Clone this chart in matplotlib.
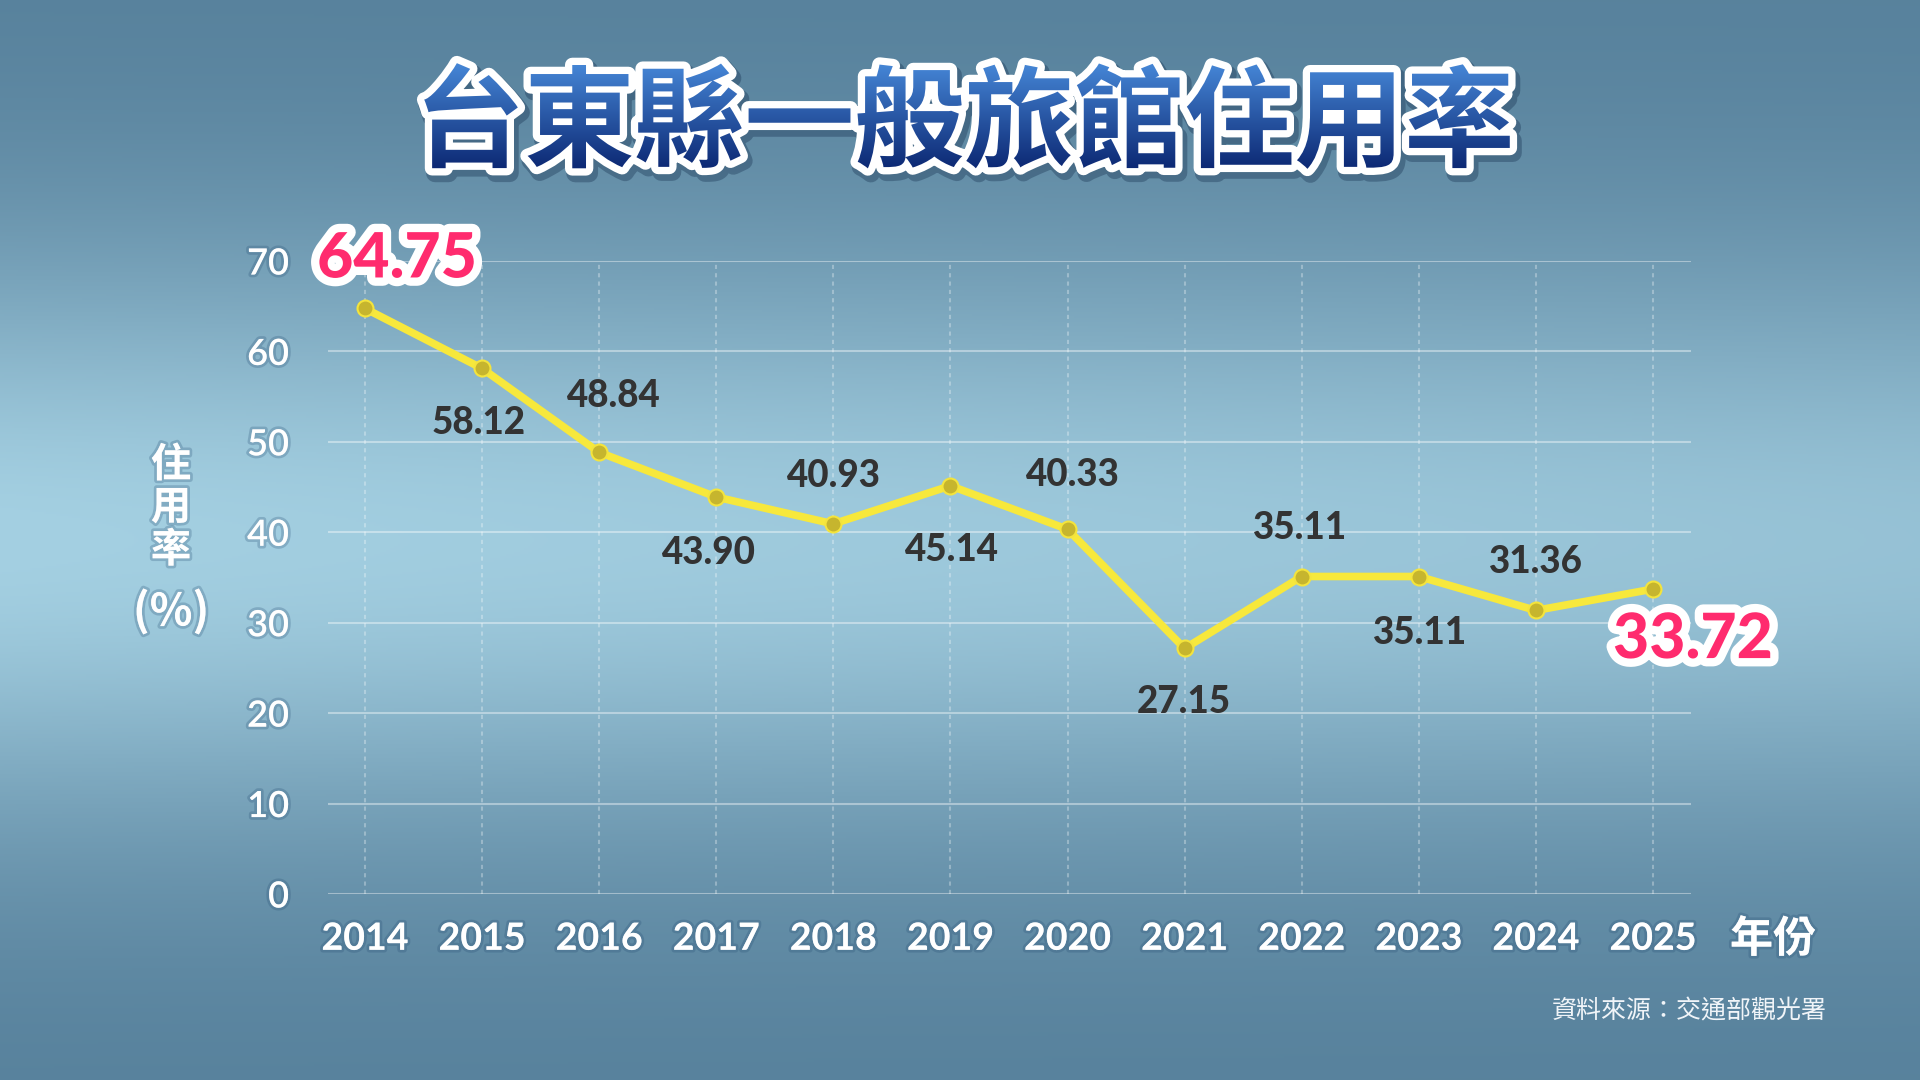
import numpy as np
import matplotlib
matplotlib.use("Agg")
import matplotlib.pyplot as plt
import matplotlib.patheffects as pe
from matplotlib.textpath import TextPath
from matplotlib.font_manager import FontProperties
from matplotlib.patches import PathPatch
from matplotlib.transforms import Affine2D

# ---------------- data ----------------
years = [2014, 2015, 2016, 2017, 2018, 2019, 2020, 2021, 2022, 2023, 2024, 2025]
values = [64.75, 58.12, 48.84, 43.90, 40.93, 45.14, 40.33, 27.15, 35.11, 35.11, 31.36, 33.72]
highlight_years = [2014, 2025]
y_ticks = [0, 10, 20, 30, 40, 50, 60, 70]
x_tick_labels = [str(y) for y in years]
title = "台東縣一般旅館住用率"
ylabel_main = "住\n用\n率"
ylabel_unit = "(%)"
xlabel = "年份"
source = "資料來源：交通部觀光署"

# label offsets in pixels (dx, dy) -- layout only
label_offsets = [(32, 49), (-3, -55), (14, 56), (-8, -56), (0, 48), (1, -64),
                 (4, 54), (-1, -54), (-2, 49), (1, -56), (0, 48), (40, -51)]

W, H = 1920, 1080
fig = plt.figure(figsize=(19.2, 10.8), dpi=100)

# ---------------- background ----------------
bg = fig.add_axes([0, 0, 1, 1])
bg.axis("off")
hh, ww = 540, 960
yy = np.linspace(0, 1, hh)[:, None]
xx = np.linspace(0, 1, ww)[None, :]
f = np.exp(-((yy - 0.50) / 0.27) ** 2) * (1.0 - 0.18 * xx)
dark = np.array([86, 128, 155]) / 255.0
light = np.array([164, 208, 226]) / 255.0
img = dark + (light - dark) * f[..., None]
bg.imshow(img, extent=[0, W, 0, H], origin="upper", aspect="auto", zorder=0)

# ---------------- title with gradient fill ----------------
fp = FontProperties(family="Noto Sans CJK TC", weight="black")
tp = TextPath((0, 0), title, size=110, prop=fp)
ext = tp.get_extents()
tr = Affine2D().translate(-(ext.x0 + ext.x1) / 2, -(ext.y0 + ext.y1) / 2).translate(967, H - 116)
tpath = tr.transform_path(tp)
shadow = PathPatch(Affine2D().translate(3, -5).transform_path(tpath),
                   fc=(0.08, 0.18, 0.3, 0.35), ec=(0.08, 0.18, 0.3, 0.35), lw=13,
                   joinstyle="round", zorder=2)
outline = PathPatch(tpath, fc="white", ec="white", lw=10.5, joinstyle="round", zorder=2.5)
clip = PathPatch(tpath, fc="none", ec="none", zorder=3)
bg.add_patch(shadow)
bg.add_patch(outline)
bg.add_patch(clip)
te = tpath.get_extents()
g = np.linspace(0, 1, 256)[:, None]
top_c = np.array([70, 135, 215]) / 255.0
bot_c = np.array([12, 40, 115]) / 255.0
gimg = top_c + (bot_c - top_c) * g[..., None]
gimg = np.repeat(gimg, 4, axis=1)
im = bg.imshow(gimg, extent=[te.x0, te.x1, te.y0, te.y1], origin="upper", aspect="auto", zorder=3)
im.set_clip_path(clip)
bg.set_xlim(0, W)
bg.set_ylim(0, H)

# ---------------- main chart ----------------
left, right, bottom, top = 328, 1691, 894, 261
ax = fig.add_axes([left / W, (H - bottom) / H, (right - left) / W, (bottom - top) / H])
ax.set_facecolor("none")
x0 = years[0] - (365 - left) / ((1653 - 365) / 11)
x1 = years[-1] + (right - 1653) / ((1653 - 365) / 11)
ax.set_xlim(x0, x1)
ax.set_ylim(0, 70)
for s in ax.spines.values():
    s.set_visible(False)

ax.set_yticks(y_ticks)
ax.set_xticks(years)
ax.set_xticklabels(x_tick_labels)
ax.grid(axis="y", color="white", alpha=0.4, lw=1.5, zorder=1)
ax.grid(axis="x", color="white", alpha=0.3, lw=1.5, ls=(0, (2, 2)), zorder=1)
ax.set_axisbelow(True)
ax.tick_params(axis="both", length=0)
ax.tick_params(axis="y", pad=28, labelsize=26, labelcolor="white")
ax.tick_params(axis="x", pad=20, labelsize=27, labelcolor="white")
shadow_fx = [pe.withStroke(linewidth=4, foreground=(0.15, 0.3, 0.45, 0.25))]
for lab in ax.get_yticklabels():
    lab.set_family("Lato")
    lab.set_fontweight("semibold")
    lab.set_path_effects(shadow_fx)
for lab in ax.get_xticklabels():
    lab.set_family("Lato")
    lab.set_fontweight("bold")
    lab.set_path_effects(shadow_fx)

ax.plot(years, values, color="#f7e83c", lw=5.5, zorder=3, solid_joinstyle="round")
ax.plot(years, values, "o", ms=11.5, mfc="#c6b52e", mec="#f4e43c", mew=1.5, zorder=4)

for yr, v, (dx, dy) in zip(years, values, label_offsets):
    if yr in highlight_years:
        ax.annotate(f"{v:.2f}", (yr, v), xytext=(dx, dy), textcoords="offset pixels",
                    ha="center", va="center", fontsize=45, fontweight="black",
                    family="Lato", color="#ff2b6e", zorder=6,
                    path_effects=[pe.Stroke(linewidth=12, foreground="white"), pe.Normal()])
    else:
        ax.annotate(f"{v:.2f}", (yr, v), xytext=(dx, dy), textcoords="offset pixels",
                    ha="center", va="center", fontsize=26.5, fontweight="black",
                    family="Lato", color="#333333", zorder=5)

# ---------------- axis titles & source ----------------
cjk = ["Noto Sans CJK TC", "DejaVu Sans"]
txt_fx = [pe.withStroke(linewidth=4, foreground=(0.15, 0.3, 0.45, 0.25))]
bg.text(171, H - 508, ylabel_main, ha="center", va="center", fontsize=29, fontweight="bold",
        color="white", family=cjk, linespacing=1.05, path_effects=txt_fx, zorder=5)
bg.text(171, H - 612, ylabel_unit, ha="center", va="center", fontsize=32, fontweight="bold",
        color="white", family=cjk, path_effects=txt_fx, zorder=5)
bg.text(1773, H - 939, xlabel, ha="center", va="center", fontsize=31, fontweight="bold",
        color="white", family=cjk, path_effects=txt_fx, zorder=5)
bg.text(1827, H - 1011, source, ha="right", va="center", fontsize=18,
        color="#f0f4f8", family=cjk, zorder=5)

fig.savefig("out.png", dpi=100)
